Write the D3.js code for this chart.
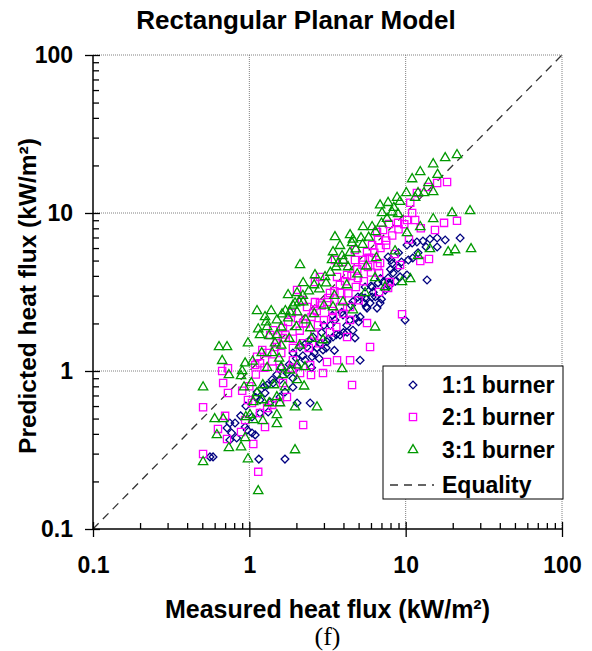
<!DOCTYPE html>
<meta charset="utf-8">
<script src="https://d3js.org/d3.v7.min.js"></script>
<style>
  body { margin: 0; background: #fff; }
  text { font-family: "Liberation Sans", Arial, sans-serif; font-weight: bold; fill: #000; }
</style>
<div id="chart"></div>
<script>
// axis ticks
var majorTicks = [0.1, 1, 10, 100];
var tickLabels = ["0.1", "1", "10", "100"];

// 1:1 burner [measured, predicted]
var burner11 = [
  [22.3,6.95],[17.9,6.75],[15.9,6.95],[14.3,6.85],[12.9,6.65],[11.8,6.55],[11.0,6.46],[10.2,6.27],
  [15.9,6.09],[10.4,5.04],[11.1,5.19],[7.72,5.27],[8.07,5.04],[13.7,3.77],[8.94,4.49],[8.30,4.17],
  [9.21,3.94],[10.2,4.05],[7.72,3.88],[7.17,3.66],[6.66,3.61],[6.10,3.40],[5.50,3.40],[7.94,3.50],
  [4.95,2.94],[5.50,2.90],[6.10,2.94],[5.92,2.69],[6.86,2.69],[6.56,2.50],[5.66,2.50],[5.11,2.20],
  [4.60,1.81],[4.22,1.76],[3.80,1.69],[4.74,1.62],[3.43,1.64],[3.14,1.53],[2.83,1.50],[2.56,1.64],
  [2.34,1.42],[9.91,2.10],[3.97,2.26],[3.53,2.10],[2.11,1.42],[2.71,1.40],[2.96,1.36],[2.52,1.23],
  [2.27,1.17],[5.11,1.17],[2.02,1.06],[1.74,0.97],[1.90,0.90],[1.57,0.877],[1.42,0.84],[1.30,0.815],
  [1.90,0.79],[1.69,0.736],[2.02,0.627],[2.45,0.627],[1.57,0.685],[1.26,0.726],[1.12,0.736],[1.17,0.655],
  [1.36,0.637],[1.32,0.55],[1.17,0.542],[1.04,0.512],[0.75,0.469],[0.81,0.469],[0.72,0.436],[0.77,0.405],
  [0.97,0.423],[1.04,0.405],[1.09,0.394],[0.75,0.366],[0.83,0.377],[0.56,0.286],[0.586,0.286],[1.15,0.277],
  [1.69,0.277],[0.94,0.442],
  [2.2,1.25],[2.4,1.55],[2.6,1.30],[2.9,1.75],[3.1,1.40],[3.3,1.95],[3.6,1.70],[3.9,2.35],
  [4.2,1.95],[4.5,2.60],[4.8,2.15],[5.2,2.95],[5.6,2.55],[6.0,3.45],[6.4,2.95],[6.9,3.85],
  [7.4,3.25],[8.0,4.40],[8.6,3.70],[9.4,4.90],[2.5,1.05],[2.8,1.20],[3.2,1.60],[3.5,1.35],
  [4.0,1.75],[4.4,2.10],[5.0,2.05],[5.4,2.70],[6.2,3.15],[7.0,2.85],[7.8,3.60],[1.8,1.10],
  [2.0,1.20],[1.5,0.95],[1.6,1.05],[1.4,0.88],[1.25,0.80],[1.1,0.68],[0.95,0.60],[0.88,0.52],
  [1.9,1.30],[2.3,1.50],[3.0,1.95],[3.4,2.25],[4.6,2.75],[12.0,5.6],[13.5,6.1],[9.0,5.6],[8.2,4.8]
];

// 2:1 burner [measured, predicted]
var burner21 = [
  [18.4,15.7],[15.9,15.5],[13.9,14.6],[11.8,13.4],[10.7,11.6],[11.0,10.0],[11.5,9.04],[10.2,9.04],
  [8.94,8.66],[7.83,8.52],[7.17,7.81],[6.56,7.58],[15.4,7.81],[17.6,8.66],[21.3,8.92],[6.66,6.75],
  [7.49,6.27],[6.10,6.27],[4.74,5.83],[5.66,5.66],[4.74,5.04],[5.34,5.04],[6.10,5.19],[6.86,4.83],
  [3.97,4.90],[3.53,5.04],[3.64,3.94],[4.22,4.05],[4.95,3.88],[5.74,4.55],[6.76,4.17],[9.21,4.69],
  [12.4,4.97],[14.1,5.12],[2.83,3.94],[2.63,3.66],[6.76,3.16],[7.72,3.35],[7.94,3.66],[3.80,3.12],
  [3.28,3.12],[2.83,2.69],[2.63,2.73],[3.14,2.73],[2.34,2.54],[2.17,2.81],[3.80,2.54],[4.41,2.54],
  [2.56,2.33],[3.43,2.20],[4.41,2.10],[5.66,2.01],[9.48,2.29],[2.21,2.01],[2.75,1.95],[3.28,1.76],
  [4.22,1.64],[5.92,1.42],[2.02,3.26],[1.87,2.33],[2.05,2.16],[1.77,2.04],[1.64,1.87],[1.42,1.81],
  [1.36,1.69],[1.64,1.62],[1.46,1.42],[1.30,1.30],[1.21,1.36],[1.12,1.23],[1.17,1.12],[1.09,1.09],
  [0.73,1.04],[0.67,1.00],[0.68,0.84],[0.73,0.726],[0.506,0.59],[1.90,1.17],[1.57,1.04],[1.87,1.04],
  [2.11,0.97],[2.48,0.944],[2.96,0.97],[2.45,1.09],[3.14,1.14],[3.64,1.17],[4.41,1.17],[4.54,0.815],
  [2.21,0.455],[1.26,0.442],[1.17,0.542],[1.04,0.627],[0.98,0.655],[0.94,0.49],[0.70,0.52],[0.63,0.43],
  [0.72,0.371],[0.885,0.411],[1.06,0.345],[0.506,0.298],[1.14,0.23],[1.64,0.84],[1.74,0.685],[1.57,0.637],
  [1.40,0.61],[1.30,0.583],
  [1.9,1.6],[2.1,1.8],[2.3,2.0],[2.5,2.2],[2.7,2.4],[2.9,2.6],[3.2,2.9],[3.5,3.2],
  [3.8,3.5],[4.1,3.7],[4.5,4.0],[4.9,4.4],[5.3,4.7],[5.8,5.2],[6.3,5.6],[6.9,6.0],
  [7.5,6.7],[8.2,7.2],[9.0,7.9],[9.8,8.5],[2.2,1.5],[2.6,1.7],[3.0,2.1],[3.4,2.4],
  [3.9,2.8],[4.3,3.1],[4.8,3.4],[5.4,3.7],[6.0,4.2],[6.6,4.6],[1.5,1.5],[1.7,1.7],
  [1.6,1.3],[1.9,1.4],[2.4,1.4],[2.8,1.5],[3.6,1.9],[4.0,2.3],[5.0,2.8],[8.5,5.5],
  [10.5,6.8],[12.5,8.0],[1.25,1.05],[1.4,1.15],[1.0,0.8],[1.1,0.95],[0.9,0.75]
];

// 3:1 burner [measured, predicted]
var burner31 = [
  [17.9,22.3],[21.3,23.3],[15.0,20.4],[12.4,18.2],[11.0,16.4],[15.0,13.6],[13.1,13.4],[12.0,13.4],
  [10.1,13.4],[8.81,12.5],[7.72,11.6],[6.86,11.2],[7.06,10.0],[8.19,10.1],[8.94,9.86],[19.8,10.0],
  [25.8,10.3],[15.0,9.17],[12.4,8.16],[10.2,7.47],[6.10,8.16],[5.34,8.16],[3.53,7.05],[4.41,7.26],
  [5.18,6.95],[4.54,6.46],[14.3,5.92],[18.7,5.66],[20.7,5.83],[26.2,5.92],[12.0,5.35],[8.55,5.74],
  [3.43,5.66],[3.92,5.35],[4.28,4.55],[3.38,5.04],[3.59,4.55],[2.63,4.05],[2.11,4.69],[3.05,3.94],
  [2.21,3.61],[6.37,3.88],[7.38,3.40],[9.48,3.66],[10.7,3.83],[5.50,3.12],[3.97,2.73],[4.60,2.43],
  [3.43,2.54],[2.21,2.73],[6.37,1.89],[2.45,1.87],[2.96,1.57],[1.77,3.03],[2.02,3.12],[2.08,2.73],
  [1.96,2.69],[1.82,2.36],[1.38,2.40],[1.12,2.40],[1.26,2.20],[1.28,2.04],[1.62,2.29],[1.77,2.16],
  [2.02,2.36],[1.14,1.84],[1.17,1.69],[1.34,1.67],[1.60,1.89],[1.50,1.69],[1.46,1.50],[0.98,1.50],
  [0.64,1.42],[0.72,1.42],[0.67,1.16],[0.94,1.12],[0.885,0.93],[0.74,0.944],[1.03,0.84],[0.925,0.79],
  [1.22,0.815],[1.12,0.726],[1.06,0.637],[1.60,1.06],[1.64,0.944],[1.82,1.01],[2.02,1.09],[2.27,1.06],
  [2.02,0.877],[2.24,0.80],[1.69,0.79],[1.44,0.815],[1.50,0.685],[1.57,0.627],[1.34,0.627],[1.21,0.655],
  [1.01,0.527],[1.06,0.49],[1.22,0.483],[1.50,0.527],[1.50,0.462],[1.96,0.59],[2.71,0.59],[3.92,1.03],
  [0.506,0.79],[0.60,0.497],[0.68,0.497],[0.62,0.394],[0.95,0.512],[0.94,0.377],[0.74,0.326],[0.885,0.33],
  [0.98,0.277],[1.96,0.316],[0.506,0.266],[1.14,0.174],
  [1.3,1.9],[1.5,2.1],[1.7,2.4],[1.9,2.6],[2.2,3.0],[2.4,3.2],[2.6,3.5],[2.8,3.3],
  [3.1,3.6],[3.3,4.2],[3.7,4.8],[4.0,5.0],[4.4,5.6],[4.8,5.9],[5.3,6.3],[5.8,7.0],
  [6.4,7.6],[7.0,8.6],[7.6,9.2],[8.4,10.8],[9.2,11.8],[2.0,1.9],[2.3,2.1],[2.6,2.3],
  [3.0,2.6],[3.5,3.0],[4.2,3.5],[4.9,4.1],[5.6,4.6],[6.5,5.2],[1.2,1.3],[1.4,1.3],
  [1.6,1.45],[1.8,1.6],[1.05,1.15],[0.9,1.0],[1.3,1.05],[1.55,1.2],[2.1,1.45],[2.5,1.6],
  [11.5,12.5],[14.0,15.5],[16.0,17.5],[4.6,6.8],[3.8,6.2]
];

var seriesNames = ["1:1 burner", "2:1 burner", "3:1 burner"];
var seriesColors = ["#000080", "#ff00ff", "#009900"];

var W = 592, H = 651;
var plot = {left: 93, right: 562, top: 55, bottom: 529};

var svg = d3.select("#chart").append("svg")
  .attr("width", W).attr("height", H);

var x = d3.scaleLog().domain([0.1, 100]).range([plot.left, plot.right]);
var y = d3.scaleLog().domain([0.1, 100]).range([plot.bottom, plot.top]);

var minorTicks = x.ticks().filter(function(v) { return majorTicks.indexOf(v) < 0; });

// grid lines (dotted gray), includes top and right frame
var grid = svg.append("g");
[1, 10, 100].forEach(function(v) {
  grid.append("line")
    .attr("x1", x(v)).attr("x2", x(v)).attr("y1", plot.top).attr("y2", plot.bottom)
    .attr("stroke", "#808080").attr("stroke-width", 1).attr("stroke-dasharray", "1,1");
  grid.append("line")
    .attr("x1", plot.left).attr("x2", plot.right).attr("y1", y(v)).attr("y2", y(v))
    .attr("stroke", "#808080").attr("stroke-width", 1).attr("stroke-dasharray", "1,1");
});

// equality line
svg.append("line")
  .attr("x1", x(0.1)).attr("y1", y(0.1)).attr("x2", x(100)).attr("y2", y(100))
  .attr("stroke", "#333").attr("stroke-width", 1.3).attr("stroke-dasharray", "8,6");

// axes: minor ticks inward, major ticks crossing the axis
var xMinor = svg.append("g").attr("transform", "translate(0," + plot.bottom + ")")
  .call(d3.axisBottom(x).tickValues(minorTicks).tickSize(-6).tickFormat(""));
var xMajor = svg.append("g").attr("transform", "translate(0," + plot.bottom + ")")
  .call(d3.axisBottom(x).tickValues(majorTicks).tickSize(8).tickPadding(20)
    .tickFormat(function(d, i) { return tickLabels[i]; }));
xMajor.selectAll(".tick line").attr("y1", -7);

var yMinor = svg.append("g").attr("transform", "translate(" + plot.left + ",0)")
  .call(d3.axisLeft(y).tickValues(minorTicks).tickSize(-6).tickFormat(""));
var yMajor = svg.append("g").attr("transform", "translate(" + plot.left + ",0)")
  .call(d3.axisLeft(y).tickValues(majorTicks).tickSize(8).tickPadding(12)
    .tickFormat(function(d, i) { return tickLabels[i]; }));
yMajor.selectAll(".tick line").attr("x1", 7);

[xMinor, xMajor, yMinor, yMajor].forEach(function(g) {
  g.selectAll(".domain").remove();
  g.selectAll(".tick line").attr("stroke", "#000").attr("stroke-width", 1.3);
  g.selectAll("text").style("font-size", "23px").style("font-family", "Liberation Sans, Arial, sans-serif")
    .style("font-weight", "bold").attr("fill", "#000");
});
xMajor.selectAll("text").attr("dy", "0.71em");

svg.append("line").attr("x1", plot.left).attr("x2", plot.right)
  .attr("y1", plot.bottom).attr("y2", plot.bottom).attr("stroke", "#000").attr("stroke-width", 1.5);
svg.append("line").attr("x1", plot.left).attr("x2", plot.left)
  .attr("y1", plot.top).attr("y2", plot.bottom).attr("stroke", "#000").attr("stroke-width", 1.5);

// markers
var symbols = [
  d3.symbol().type(d3.symbolSquare).size(30),
  d3.symbol().type(d3.symbolSquare).size(52),
  d3.symbol().type(d3.symbolTriangle).size(38)
];
var rotations = [45, 0, 0];
var allData = [burner11, burner21, burner31];

allData.forEach(function(data, i) {
  svg.append("g").selectAll("path")
    .data(data)
    .enter().append("path")
      .attr("d", symbols[i])
      .attr("transform", function(d) {
        return "translate(" + x(d[0]) + "," + y(d[1]) + ") rotate(" + rotations[i] + ")";
      })
      .attr("fill", "none")
      .attr("stroke", seriesColors[i])
      .attr("stroke-width", 1.3);
});

// legend
var lg = svg.append("g");
lg.append("rect").attr("x", 383).attr("y", 366).attr("width", 180).attr("height", 133)
  .attr("fill", "#fff").attr("stroke", "#000").attr("stroke-width", 1);
var rowY = [385, 417, 450, 485];
seriesNames.forEach(function(name, i) {
  lg.append("path").attr("d", symbols[i])
    .attr("transform", "translate(413," + rowY[i] + ") rotate(" + rotations[i] + ")")
    .attr("fill", "none").attr("stroke", seriesColors[i]).attr("stroke-width", 1.3);
  lg.append("text").attr("x", 442).attr("y", rowY[i]).attr("dy", "0.36em")
    .style("font-size", "23px").text(name);
});
lg.append("line").attr("x1", 390).attr("x2", 434).attr("y1", rowY[3]).attr("y2", rowY[3])
  .attr("stroke", "#333").attr("stroke-width", 1.3).attr("stroke-dasharray", "8,6");
lg.append("text").attr("x", 442).attr("y", rowY[3]).attr("dy", "0.36em")
  .style("font-size", "23px").text("Equality");

// titles
svg.append("text").attr("x", 296).attr("y", 29).attr("text-anchor", "middle")
  .style("font-size", "26px").text("Rectangular Planar Model");
svg.append("text").attr("x", (plot.left + plot.right) / 2).attr("y", 618).attr("text-anchor", "middle")
  .style("font-size", "25px").text("Measured heat flux (kW/m²)");
svg.append("text").attr("transform", "translate(36," + ((plot.top + plot.bottom) / 2 + 4) + ") rotate(-90)")
  .attr("text-anchor", "middle").style("font-size", "24.5px").text("Predicted heat flux (kW/m²)");
svg.append("text").attr("x", (plot.left + plot.right) / 2).attr("y", 645).attr("text-anchor", "middle")
  .style("font-family", "Liberation Serif, Times New Roman, serif").style("font-weight", "normal")
  .style("font-size", "26px").text("(f)");
</script>
